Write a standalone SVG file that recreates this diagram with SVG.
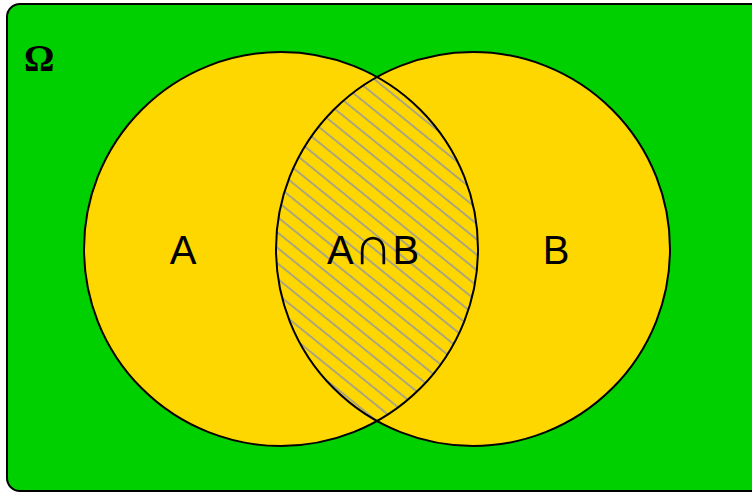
<svg xmlns="http://www.w3.org/2000/svg" width="752" height="492" viewBox="0 0 752 492">
<style>
.set{fill:#FFD700;stroke:none}
.outline{fill:none;stroke:#000;stroke-width:2}
.lbl{font-family:"Liberation Sans",Arial,sans-serif;font-size:40px;fill:#000;text-anchor:middle}
.cap{font-size:54px}
.omega{font-family:"Liberation Serif","Times New Roman",serif;font-size:38px;font-weight:bold;fill:#000}
</style>
<defs>
<pattern id="hatch" width="12" height="12" patternUnits="userSpaceOnUse" patternTransform="rotate(39)">
<line x1="0" y1="6" x2="12" y2="6" stroke="#9a9a9a" stroke-width="1.6"/>
</pattern>
<clipPath id="clipA"><circle cx="281" cy="249" r="197"/></clipPath>
</defs>
<g id="omega">
<rect x="7" y="4" width="770" height="487" rx="13" ry="13" fill="#00D000" stroke="#000" stroke-width="2"/>
<text class="omega" x="24" y="71">Ω</text>
</g>
<g id="setA">
<circle class="set" cx="281" cy="249" r="197"/>
</g>
<g id="setB">
<circle class="set" cx="473" cy="249" r="197"/>
</g>
<g id="intersection">
<circle cx="473" cy="249" r="197" fill="url(#hatch)" clip-path="url(#clipA)"/>
</g>
<g id="outlines">
<circle class="outline" cx="281" cy="249" r="197"/>
<circle class="outline" cx="473" cy="249" r="197"/>
</g>
<text class="lbl" x="183" y="264">A</text>
<text class="lbl" x="373" y="264">A<tspan class="cap">∩</tspan>B</text>
<text class="lbl" x="556" y="264">B</text>
</svg>
